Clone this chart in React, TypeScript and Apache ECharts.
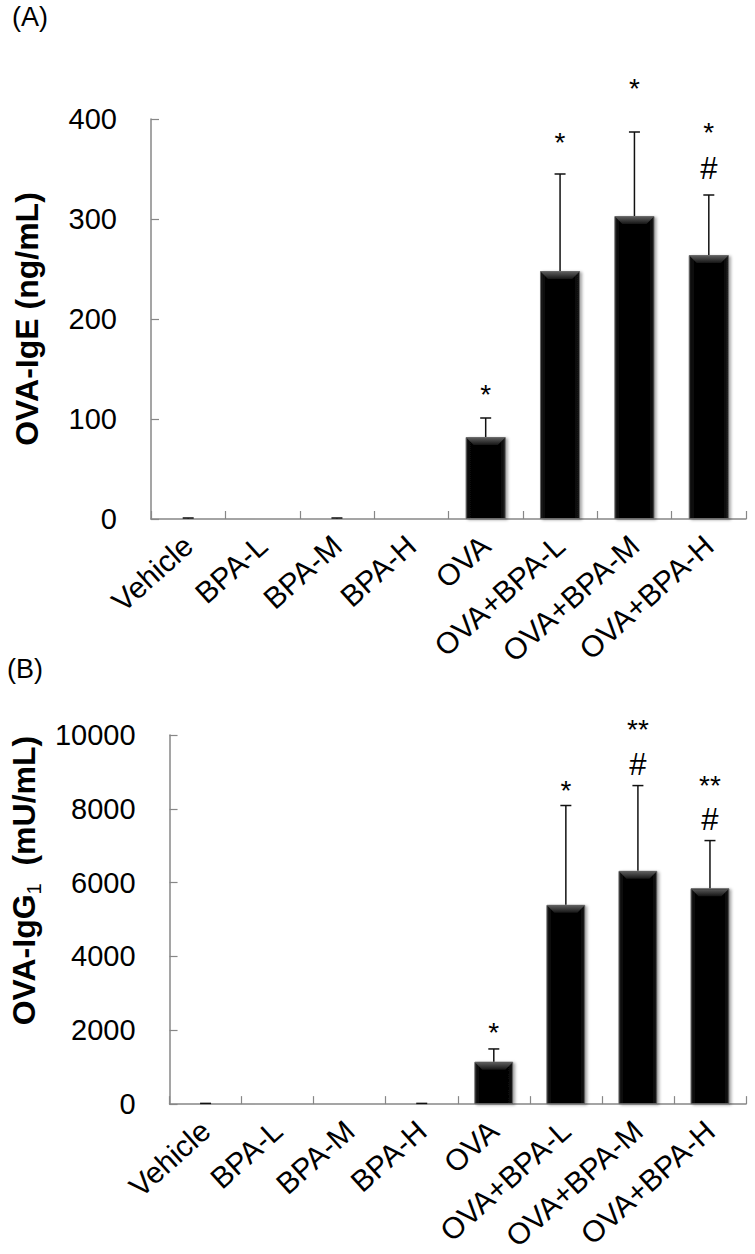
import React, { useEffect, useRef } from "react";
import * as echarts from "echarts";

const categories = ["Vehicle", "BPA-L", "BPA-M", "BPA-H", "OVA", "OVA+BPA-L", "OVA+BPA-M", "OVA+BPA-H"];

// Panel A: OVA-IgE (ng/mL)
const igeMean = [0.5, 0, 0.5, 0, 82, 248, 303, 264];
const igeSd = [0.5, 0, 0.5, 0, 19, 97, 84, 60];
const igeTicks = { min: 0, max: 400, interval: 100 };
const igeStarText = ["", "", "", "", "*", "*", "*", "*"];
const igeStarPos = [null, null, null, null, 131, 383, 437, 393];
const igeHashText = ["", "", "", "", "", "", "", "#"];
const igeHashPos = [null, null, null, null, null, null, null, 351];

// Panel B: OVA-IgG1 (mU/mL)
const igg1Mean = [10, 0, 0, 10, 1150, 5400, 6320, 5850];
const igg1Sd = [10, 0, 0, 10, 345, 2690, 2310, 1290];
const igg1Ticks = { min: 0, max: 10000, interval: 2000 };
const igg1StarText = ["", "", "", "", "*", "*", "**", "**"];
const igg1StarPos = [null, null, null, null, 2095, 8652, 10302, 8796];
const igg1HashText = ["", "", "", "", "", "", "#", "#"];
const igg1HashPos = [null, null, null, null, null, null, 9201, 7724];

const FONT = "'Liberation Sans', Arial, sans-serif";
const AXIS_GRAY = "#878787";
const BAR_FRAC = 0.54;

function errorSeries(gi: number, mean: number[], sd: number[]) {
  return {
    type: "custom",
    xAxisIndex: gi,
    yAxisIndex: gi,
    z: 4,
    clip: false,
    silent: true,
    data: mean.map((m, i) => [i, m, sd[i]]),
    renderItem: (params: any, api: any) => {
      const i = api.value(0);
      const m = api.value(1);
      const s = api.value(2);
      const children: any[] = [];
      const base = api.coord([i, m]);
      const zero = api.coord([i, 0]);
      const bw = api.size([1, 0])[0] * BAR_FRAC;
      const h = zero[1] - base[1];
      if (h > 12) {
        const b = 7;
        const xl = base[0] - bw / 2 + 1;
        const xr = base[0] + bw / 2 - 1;
        const yt = base[1] + 1;
        children.push({
          type: "polygon",
          shape: { points: [[xl, yt], [xr, yt], [xr - b, yt + b], [xl + b, yt + b]] },
          style: {
            fill: {
              type: "linear",
              x: 0,
              y: 0,
              x2: 0,
              y2: 1,
              colorStops: [
                { offset: 0, color: "#5a5a5a" },
                { offset: 1, color: "#151515" },
              ],
            },
          },
        });
      }
      if (s > 0) {
        const top = api.coord([i, m + s]);
        const hw = 5.5;
        const ls = { stroke: "#111", lineWidth: 1.5 };
        children.push({ type: "line", shape: { x1: base[0], y1: base[1], x2: top[0], y2: top[1] }, style: ls });
        children.push({ type: "line", shape: { x1: top[0] - hw, y1: top[1], x2: top[0] + hw, y2: top[1] }, style: ls });
      }
      return { type: "group", children };
    },
  };
}

function annotSeries(gi: number, pos: (number | null)[], texts: string[]) {
  const data: number[][] = [];
  pos.forEach((v, i) => {
    if (v != null) data.push([i, v]);
  });
  return {
    type: "custom",
    xAxisIndex: gi,
    yAxisIndex: gi,
    z: 5,
    clip: false,
    silent: true,
    data,
    renderItem: (params: any, api: any) => {
      const i = api.value(0);
      const v = api.value(1);
      const p = api.coord([i, v]);
      const t = texts[i];
      const isStar = t.indexOf("*") >= 0;
      return {
        type: "text",
        x: p[0],
        y: p[1] + (isStar ? 6 : 0),
        style: {
          text: t,
          fontSize: isStar ? 28 : 31,
          fontFamily: FONT,
          fill: "#000",
          align: "center",
          verticalAlign: "middle",
        },
      };
    },
  };
}

function xAxisFor(gi: number) {
  return {
    type: "category",
    gridIndex: gi,
    data: categories,
    boundaryGap: true,
    axisLine: { show: true, lineStyle: { color: AXIS_GRAY, width: 1.5 } },
    axisTick: { show: true, inside: true, length: 8, lineStyle: { color: AXIS_GRAY, width: 1.2 } },
    axisLabel: { rotate: 42, fontSize: 30, color: "#000", margin: 22, interval: 0, fontFamily: FONT },
    splitLine: { show: false },
  };
}

function barSeries(gi: number, mean: number[]) {
  return {
    type: "bar",
    xAxisIndex: gi,
    yAxisIndex: gi,
    data: mean,
    barWidth: BAR_FRAC * 100 + "%",
    z: 3,
    itemStyle: {
      color: {
        type: "linear",
        x: 0,
        y: 0,
        x2: 1,
        y2: 0,
        colorStops: [
          { offset: 0, color: "#1c1c1c" },
          { offset: 0.12, color: "#050505" },
          { offset: 0.88, color: "#050505" },
          { offset: 1, color: "#1c1c1c" },
        ],
      },
      borderColor: "#6a6a6a",
      borderWidth: 1,
      shadowBlur: 3,
      shadowOffsetX: 2,
      shadowOffsetY: 1,
      shadowColor: "rgba(0,0,0,0.35)",
    },
  };
}

export default function App() {
  const ref = useRef<HTMLDivElement>(null);
  useEffect(() => {
    if (!ref.current) return;
    const chart = echarts.init(ref.current, null, { renderer: "svg" });
    const option: any = {
      animation: false,
      backgroundColor: "#fff",
      textStyle: { fontFamily: FONT },
      graphic: [
        { type: "text", left: 12, top: 3, style: { text: "(A)", fontSize: 27, fill: "#000", fontFamily: FONT } },
        { type: "text", left: 7, top: 655, style: { text: "(B)", fontSize: 27, fill: "#000", fontFamily: FONT } },
      ],
      grid: [
        { left: 151, top: 119, width: 595, height: 400 },
        { left: 151, top: 735, width: 595, height: 388 },
      ],
      xAxis: [xAxisFor(0), xAxisFor(1)],
      yAxis: [
        {
          type: "value",
          gridIndex: 0,
          ...igeTicks,
          name: "OVA-IgE (ng/mL)",
          nameLocation: "middle",
          nameGap: 108,
          nameTextStyle: { fontSize: 32, fontWeight: "bold", color: "#000", fontFamily: FONT },
          axisLine: { show: true, lineStyle: { color: AXIS_GRAY, width: 1.5 } },
          axisTick: { show: true, inside: true, length: 8, lineStyle: { color: AXIS_GRAY, width: 1.2 } },
          axisLabel: { fontSize: 29, color: "#000", margin: 34, fontFamily: FONT },
          splitLine: { show: false },
        },
        {
          type: "value",
          gridIndex: 1,
          ...igg1Ticks,
          name: "{b|OVA-IgG}{s|1}{b|  (mU/mL)}",
          nameLocation: "middle",
          nameGap: 108,
          nameTextStyle: {
            color: "#000",
            fontFamily: FONT,
            padding: [0, 0, 0, 78],
            rich: {
              b: { fontSize: 32, fontWeight: "bold", color: "#000", fontFamily: FONT, lineHeight: 40 },
              s: { fontSize: 20, fontWeight: "normal", color: "#000", fontFamily: FONT, lineHeight: 20, verticalAlign: "bottom" },
            },
          },
          axisLine: { show: true, lineStyle: { color: AXIS_GRAY, width: 1.5 } },
          axisTick: { show: true, inside: true, length: 8, lineStyle: { color: AXIS_GRAY, width: 1.2 } },
          axisLabel: { fontSize: 29, color: "#000", margin: 34, fontFamily: FONT, formatter: (v: number) => String(v) },
          splitLine: { show: false },
        },
      ],
      series: [
        barSeries(0, igeMean),
        errorSeries(0, igeMean, igeSd),
        annotSeries(0, igeStarPos, igeStarText),
        annotSeries(0, igeHashPos, igeHashText),
        barSeries(1, igg1Mean),
        errorSeries(1, igg1Mean, igg1Sd),
        annotSeries(1, igg1StarPos, igg1StarText),
        annotSeries(1, igg1HashPos, igg1HashText),
      ],
    };
    chart.setOption(option);
    return () => chart.dispose();
  }, []);
  return <div ref={ref} style={{ position: "absolute", left: 0, top: 0, width: 755, height: 1254 }} />;
}
